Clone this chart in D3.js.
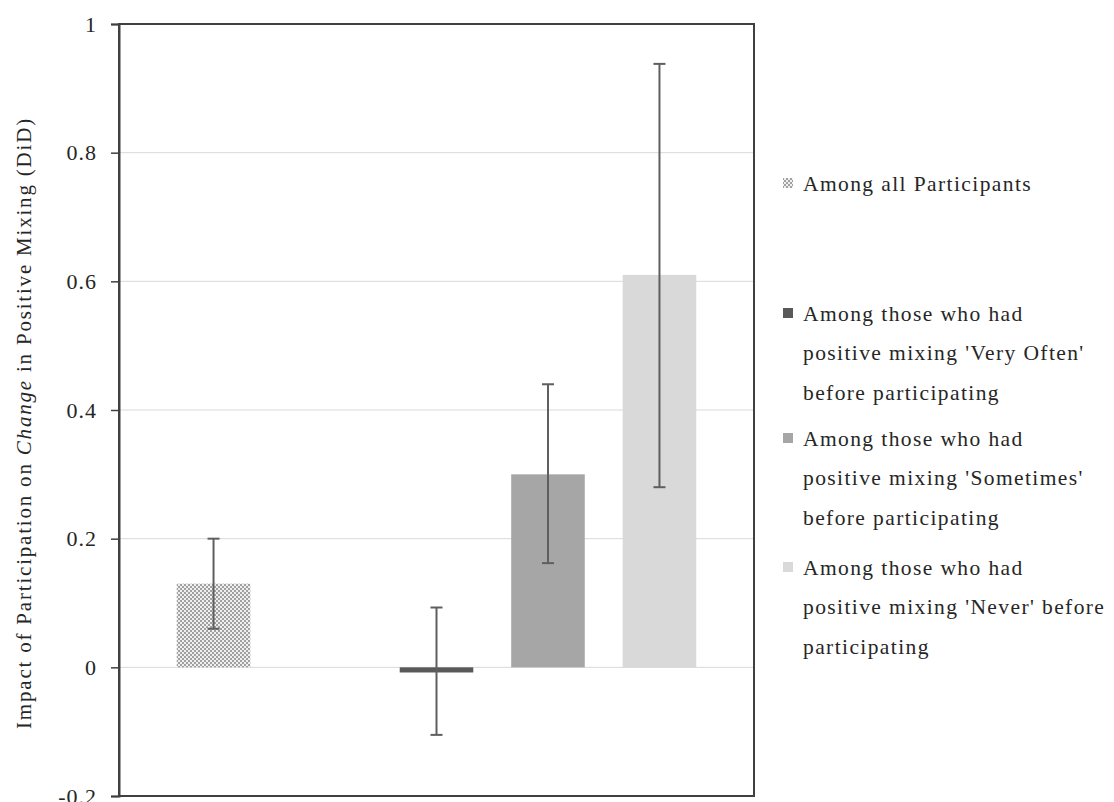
<!DOCTYPE html>
<html>
<head>
<meta charset="utf-8">
<script src="https://cdn.jsdelivr.net/npm/d3@7"></script>
<style>
  html, body { margin: 0; padding: 0; background: #fff; }
  svg { display: block; }
  text { font-family: "Liberation Serif", "DejaVu Serif", serif; fill: #262626; }
</style>
</head>
<body>
<svg id="chart" width="1114" height="802"></svg>
<script>
// Category slots along the x axis (one empty slot separates the two groups)
const slots = ["all", "gap", "veryOften", "sometimes", "never"];
// Series shown as bars
const seriesKeys = ["all", "veryOften", "sometimes", "never"];
const seriesValues = [0.13, -0.008, 0.30, 0.61];
const errLow = [0.06, -0.105, 0.162, 0.28];
const errHigh = [0.20, 0.093, 0.44, 0.938];
const seriesColors = ["url(#crosshatch)", "#595959", "#a6a6a6", "#d9d9d9"];
const legendLabels = [
  ["Among all Participants"],
  ["Among those who had", "positive mixing 'Very Often'", "before participating"],
  ["Among those who had", "positive mixing 'Sometimes'", "before participating"],
  ["Among those who had", "positive mixing 'Never' before", "participating"]
];
const yTicks = [-0.2, 0, 0.2, 0.4, 0.6, 0.8, 1];

const svg = d3.select("#chart");
const plot = { left: 119, right: 754, top: 24, bottom: 796 };

// Hatched fill used by the "all participants" bar and its legend key
const defs = svg.append("defs");
const pat = defs.append("pattern")
  .attr("id", "crosshatch")
  .attr("patternUnits", "userSpaceOnUse")
  .attr("width", 4).attr("height", 4);
pat.append("rect").attr("width", 4).attr("height", 4).attr("fill", "#f0f0f0");
pat.append("rect").attr("x", 0).attr("y", 0).attr("width", 2).attr("height", 2).attr("fill", "#a0a0a0");
pat.append("rect").attr("x", 2).attr("y", 2).attr("width", 2).attr("height", 2).attr("fill", "#a0a0a0");

const x = d3.scaleBand()
  .domain(slots)
  .range([plot.left, plot.right])
  .paddingInner(0.34)
  .paddingOuter(0.518);

const y = d3.scaleLinear()
  .domain([-0.2, 1])
  .range([plot.bottom, plot.top]);

// Horizontal gridlines
svg.append("g")
  .selectAll("line")
  .data(yTicks.filter(t => t > -0.2 && t < 1))
  .join("line")
  .attr("x1", plot.left).attr("x2", plot.right)
  .attr("y1", d => y(d)).attr("y2", d => y(d))
  .attr("stroke", "#d9d9d9").attr("stroke-width", 1);

// Bars
const bars = seriesKeys.map((k, i) => ({ key: k, v: seriesValues[i], lo: errLow[i], hi: errHigh[i], fill: seriesColors[i] }));
svg.append("g")
  .selectAll("rect")
  .data(bars)
  .join("rect")
  .attr("x", d => x(d.key))
  .attr("width", x.bandwidth())
  .attr("y", d => y(Math.max(0, d.v)))
  .attr("height", d => Math.abs(y(d.v) - y(0)))
  .attr("fill", d => d.fill);

// Error bars
const eb = svg.append("g").attr("stroke", "#5f5f5f").attr("stroke-width", 2);
bars.forEach(d => {
  const cx = x(d.key) + x.bandwidth() / 2;
  eb.append("line").attr("x1", cx).attr("x2", cx).attr("y1", y(d.lo)).attr("y2", y(d.hi));
  eb.append("line").attr("x1", cx - 6).attr("x2", cx + 6).attr("y1", y(d.lo)).attr("y2", y(d.lo));
  eb.append("line").attr("x1", cx - 6).attr("x2", cx + 6).attr("y1", y(d.hi)).attr("y2", y(d.hi));
});

// Frame around the plot area
svg.append("rect")
  .attr("x", plot.left).attr("y", plot.top)
  .attr("width", plot.right - plot.left).attr("height", plot.bottom - plot.top)
  .attr("fill", "none").attr("stroke", "#404040").attr("stroke-width", 2);

// Y axis
const yAxis = d3.axisLeft(y)
  .tickValues(yTicks)
  .tickSize(8)
  .tickPadding(14)
  .tickFormat(d => String(Math.round(d * 10) / 10));
const ya = svg.append("g")
  .attr("transform", `translate(${plot.left},0)`)
  .call(yAxis);
ya.attr("font-size", null).attr("font-family", null);
ya.select(".domain").attr("stroke", "#404040").attr("stroke-width", 2);
ya.selectAll(".tick line").attr("stroke", "#404040").attr("stroke-width", 1.5);
ya.selectAll(".tick text")
  .style("font-size", "22px")
  .style("letter-spacing", "1px")
  .attr("fill", "#262626");

// Y axis title
const yt = svg.append("text")
  .attr("transform", "translate(31,423) rotate(-90)")
  .attr("text-anchor", "middle")
  .style("font-size", "21px")
  .style("letter-spacing", "1.8px");
yt.append("tspan").text("Impact of Participation on ");
yt.append("tspan").attr("font-style", "italic").text("Change");
yt.append("tspan").text(" in Positive Mixing (DiD)");

// Legend
const legendTop = [183, 313, 438, 567];
const lineGap = 39.5;
const lg = svg.append("g");
legendLabels.forEach((lines, i) => {
  lg.append("rect")
    .attr("x", 783).attr("y", legendTop[i] - 5)
    .attr("width", 10).attr("height", 10)
    .attr("fill", seriesColors[i]);
  const t = lg.append("text")
    .attr("x", 803).attr("y", legendTop[i])
    .style("font-size", "21.5px")
    .style("letter-spacing", "1.4px");
  lines.forEach((s, j) => {
    t.append("tspan").attr("x", 803).attr("dy", j === 0 ? "0.35em" : lineGap).text(s);
  });
});
</script>
</body>
</html>
